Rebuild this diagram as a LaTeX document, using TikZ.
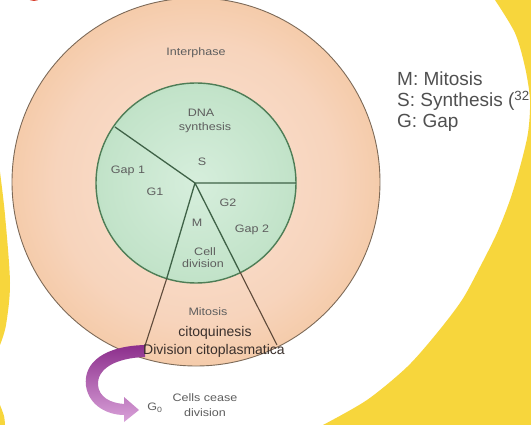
\documentclass[tikz,border=0pt]{standalone}
\usepackage{fontspec}
\setmainfont{Liberation Sans}
\usepackage{graphicx}
\definecolor{ylw}{HTML}{F7D63C}
\definecolor{pk0}{HTML}{FAE2D4}
\definecolor{pk1}{HTML}{F7D4BC}
\definecolor{pk2}{HTML}{F3C399}
\definecolor{pk3}{HTML}{ECB078}
\definecolor{gr0}{HTML}{D6EEDC}
\definecolor{gr1}{HTML}{C2E3C9}
\definecolor{gr2}{HTML}{A6D4AE}
\definecolor{gr3}{HTML}{90C699}
\definecolor{outerc}{HTML}{7D6A58}
\definecolor{innerc}{HTML}{4E7D56}
\definecolor{piec}{HTML}{3F6247}
\definecolor{trapc}{HTML}{5E4A3A}
\definecolor{labc}{HTML}{5E5E5E}
\definecolor{darkc}{HTML}{3A302C}
\definecolor{legc}{HTML}{505050}
\definecolor{arrtop}{HTML}{8C2E8C}
\definecolor{arrbot}{HTML}{D9A2D9}
\definecolor{redc}{HTML}{D8402E}
\pgfdeclareradialshading{peachsh}{\pgfpoint{0bp}{0bp}}{color(0bp)=(pk0); color(19bp)=(pk1); color(31bp)=(pk2); color(35.4bp)=(pk3); color(50bp)=(pk3)}
\pgfdeclareradialshading{greensh}{\pgfpoint{0bp}{0bp}}{color(0bp)=(gr0); color(24bp)=(gr1); color(32.5bp)=(gr2); color(35.4bp)=(gr3); color(50bp)=(gr3)}
\newcommand\widetxt[1]{\scalebox{1.16}[1]{#1}}
\tikzset{
  lab/.style={font=\fontsize{10.8}{12}\selectfont, text=labc, inner sep=0pt},
  bigtxt/.style={font=\fontsize{14}{16}\selectfont, text=darkc, inner sep=0pt},
  legend/.style={font=\fontsize{19}{21}\selectfont, text=legc, inner sep=0pt, anchor=base west},
  outerline/.style={draw=outerc, line width=0.9pt},
  innerline/.style={draw=innerc, line width=1.4pt},
  pieline/.style={draw=piec, line width=1.3pt},
  trapline/.style={draw=trapc, line width=1.1pt}
}
\begin{document}
\begin{tikzpicture}[x=1pt,y=-1pt]
\useasboundingbox (0,0) rectangle (531,425);
\begin{scope}
\clip (0,0) rectangle (531,425);
\fill[white] (0,0) rectangle (531,425);
% yellow background shapes
\fill[ylw] plot[smooth] coordinates {(495,0) (515,33) (525,67) (530,100) (528,133) (520,167) (510,200) (497,233) (480,267) (462,300) (437,333) (407,367) (367,400) (323,425)} -- (531,425) -- (531,0) -- cycle;
\fill[ylw] plot[smooth] coordinates {(0,172) (5,215) (10,283) (6,325) (0,345)} -- cycle;
\fill[ylw] plot[smooth] coordinates {(0,405) (4,416) (5,425)} -- (0,425) -- cycle;
\fill[redc] (34,-9) circle (10);
% outer ring
\shade[shading=peachsh] (196,182) circle (184);
\draw[outerline] (196,182) circle (184);
% inner circle
\shade[shading=greensh] (196,183) circle (100);
\draw[innerline] (196,183) circle (100);
% pie lines
\coordinate (c) at (195,183);
\coordinate (ul) at (115,127);
\coordinate (rt) at (296,183);
\coordinate (ml) at (166.6,278.9);
\coordinate (mr) at (240,272);
\coordinate (mlo) at (143,352);
\coordinate (mro) at (277,345);
\draw[pieline] (c) -- (ul) (c) -- (rt) (c) -- (ml) (c) -- (mr);
\draw[trapline] (ml) -- (mlo) (mr) -- (mro);
% purple arrow
\shade[top color=arrtop, bottom color=arrbot] (145,345) .. controls (105,346) and (83,362) .. (86,386) .. controls (89,406) and (108,415) .. (124,415) -- (124,422) -- (139,410) -- (124,397) -- (124,404) .. controls (110,403) and (99,397) .. (98,385) .. controls (97,369) and (115,358) .. (145,357) -- cycle;
% labels
\node[lab] (interph) at (196,53) {\widetxt{Interphase}};
\node[lab] (dna) at (201,113) {\widetxt{DNA}};
\node[lab] (synth) at (205,128) {\widetxt{synthesis}};
\node[lab] (s) at (202,162) {\widetxt{S}};
\node[lab] (gap1) at (128,171) {\widetxt{Gap 1}};
\node[lab] (g1) at (155,192) {\widetxt{G1}};
\node[lab] (g2) at (228,203) {\widetxt{G2}};
\node[lab] (m) at (197,223) {\widetxt{M}};
\node[lab] (gap2) at (252,230) {\widetxt{Gap 2}};
\node[lab] (cell) at (205,252) {\widetxt{Cell}};
\node[lab] (cdiv) at (203,264) {\widetxt{division}};
\node[lab] (mitosis) at (208,312) {\widetxt{Mitosis}};
\node[bigtxt] (citoq) at (215,333) {citoquinesis};
\node[bigtxt] (divcit) at (214,351) {Division citoplasmatica};
\node[lab] (go) at (155,408) {\widetxt{G\textsubscript{0}}};
\node[lab] (cease) at (205,398) {\widetxt{Cells cease}};
\node[lab] (cdiv2) at (205,413) {\widetxt{division}};
% legend
\node[legend] (lm) at (397,86) {M: Mitosis};
\node[legend] (ls) at (397,107) {S: Synthesis (\textsuperscript{32}};
\node[legend] (lg) at (397,128) {G: Gap};
\end{scope}
\end{tikzpicture}
\end{document}
